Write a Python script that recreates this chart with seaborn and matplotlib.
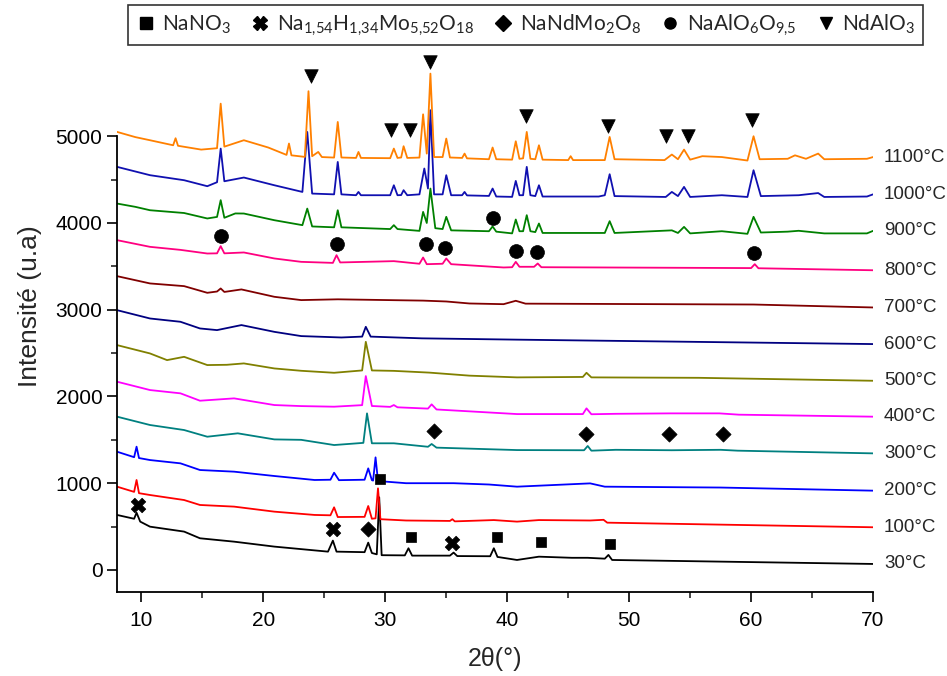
import numpy as np
import pandas as pd
import matplotlib.pyplot as plt
from matplotlib.lines import Line2D
import seaborn as sns

# curve data: (2theta, intensity)
temps = ['30°C', '100°C', '200°C', '300°C', '400°C', '500°C',
         '600°C', '700°C', '800°C', '900°C', '1000°C', '1100°C']
colors = ['#000000', '#FF0000', '#0000FF', '#008080', '#FF00FF', '#808000',
          '#000080', '#800000', '#FF0080', '#008000', '#1010B0', '#FF8000']

c30 = [(8.0, 634), (9.4, 590), (9.6, 660), (9.9, 557), (10.7, 499), (13.5, 442),
       (14.8, 365), (17.6, 326), (20.9, 269), (23.1, 240), (25.3, 211), (25.7, 338),
       (26.0, 211), (28.3, 205), (28.6, 315), (28.9, 195), (29.3, 180), (29.5, 837),
       (29.7, 170), (31.6, 168), (31.9, 250), (32.2, 165), (35.3, 165), (35.6, 200),
       (35.9, 160), (38.6, 158), (38.9, 250), (39.2, 150), (40.8, 115), (42.6, 153),
       (45.3, 140), (46.6, 140), (48.0, 130), (48.3, 173), (48.6, 115), (70.0, 69)]
c100 = [(8.0, 960), (9.4, 900), (9.6, 1037), (9.8, 885), (10.7, 864), (13.5, 806),
        (14.8, 749), (17.6, 730), (20.9, 672), (24.2, 634), (25.5, 630), (25.8, 722),
        (26.1, 610), (28.3, 612), (28.6, 737), (28.9, 590), (29.2, 595), (29.4, 941),
        (29.6, 585), (31.7, 570), (35.3, 565), (35.5, 585), (35.7, 560), (38.9, 575),
        (40.8, 557), (42.6, 575), (46.8, 570), (47.9, 578), (48.2, 545), (70.0, 492)]
c200 = [(8.0, 1363), (9.4, 1300), (9.6, 1421), (9.8, 1290), (10.7, 1267), (13.2, 1229),
        (14.8, 1152), (17.6, 1133), (20.9, 1083), (24.2, 1037), (25.5, 1040), (25.8, 1121),
        (26.2, 1035), (28.3, 1040), (28.6, 1171), (28.9, 1035), (29.0, 1030), (29.2, 1298),
        (29.4, 1025), (31.7, 1000), (33.5, 1000), (35.6, 1000), (38.5, 985), (40.8, 960),
        (46.8, 998), (48.0, 960), (57.5, 950), (70.0, 914)]
c300 = [(8.0, 1767), (10.7, 1671), (13.5, 1613), (15.4, 1536), (17.9, 1575), (20.9, 1505),
        (23.1, 1500), (25.8, 1440), (28.2, 1465), (28.5, 1805), (28.9, 1460), (30.7, 1460),
        (33.5, 1420), (33.8, 1452), (34.2, 1410), (40.8, 1382), (46.3, 1380), (46.6, 1429),
        (46.9, 1375), (48.9, 1385), (53.5, 1380), (57.5, 1385), (58.9, 1375), (70.0, 1344)]
c400 = [(8.0, 2170), (10.7, 2074), (13.2, 2036), (14.8, 1951), (17.6, 1978), (20.9, 1901),
        (23.1, 1889), (25.8, 1882), (28.1, 1900), (28.4, 2235), (28.9, 1890), (30.4, 1880),
        (30.7, 1901), (31.0, 1875), (33.5, 1860), (33.8, 1909), (34.2, 1850), (40.8, 1797),
        (46.2, 1797), (46.5, 1863), (46.9, 1795), (48.9, 1800), (53.4, 1805), (57.4, 1805),
        (59.0, 1790), (70.0, 1767)]
c500 = [(8.0, 2592), (10.7, 2496), (12.1, 2419), (13.5, 2457), (15.4, 2362), (17.0, 2365),
        (18.4, 2381), (20.9, 2323), (23.1, 2296), (25.8, 2273), (28.1, 2300), (28.4, 2630),
        (28.9, 2300), (30.7, 2295), (33.6, 2275), (36.9, 2240), (40.8, 2220), (46.2, 2225),
        (46.5, 2273), (46.9, 2220), (55.7, 2215), (70.0, 2181)]
c600 = [(8.0, 2995), (10.7, 2899), (13.2, 2861), (14.8, 2784), (16.2, 2765), (18.2, 2823),
        (20.9, 2745), (23.1, 2696), (26.4, 2680), (28.1, 2690), (28.4, 2803), (28.8, 2690),
        (33.0, 2670), (40.8, 2655), (70.0, 2604)]
c700 = [(8.0, 3387), (10.7, 3303), (13.5, 3272), (15.4, 3195), (16.2, 3210), (16.5, 3245),
        (16.8, 3205), (18.2, 3234), (20.9, 3149), (23.1, 3111), (26.1, 3120), (30.7, 3110),
        (33.1, 3105), (35.0, 3095), (36.9, 3072), (39.7, 3064), (40.7, 3103), (41.5, 3070),
        (60.2, 3060), (70.0, 3026)]
c800 = [(8.0, 3802), (10.7, 3725), (13.2, 3690), (15.4, 3648), (16.2, 3650), (16.5, 3733),
        (16.8, 3650), (18.4, 3660), (20.9, 3591), (23.1, 3552), (25.7, 3540), (26.0, 3629),
        (26.3, 3545), (30.7, 3560), (32.8, 3530), (33.1, 3602), (33.4, 3525), (34.7, 3530),
        (35.0, 3591), (35.4, 3525), (39.7, 3487), (40.4, 3490), (40.7, 3552), (41.0, 3495),
        (42.2, 3495), (42.5, 3533), (42.8, 3490), (60.0, 3480), (60.3, 3525), (60.6, 3478),
        (70.0, 3455)]
c900 = [(8.0, 4224), (9.5, 4186), (10.7, 4147), (13.5, 4115), (15.4, 4052), (16.2, 4070),
        (16.5, 4263), (16.8, 4060), (17.7, 4110), (18.4, 4109), (20.9, 4032), (23.2, 3975),
        (23.6, 4166), (24.0, 3960), (25.8, 3950), (26.1, 4147), (26.4, 3950), (30.4, 3930),
        (30.7, 3975), (31.0, 3930), (32.8, 3909), (33.1, 4128), (33.4, 4000), (33.7, 4397),
        (34.1, 3940), (34.7, 3930), (35.0, 4071), (35.4, 3915), (38.5, 3905), (38.8, 3960),
        (39.1, 3900), (40.4, 3880), (40.7, 4040), (41.0, 3905), (41.3, 3905), (41.6, 4090),
        (41.9, 3905), (42.3, 3895), (42.6, 3994), (42.9, 3885), (48.0, 3885), (48.4, 4021),
        (48.8, 3885), (53.5, 3915), (54.0, 3885), (54.5, 3955), (55.0, 3880), (57.6, 3905),
        (59.7, 3875), (60.2, 4071), (60.8, 3890), (63.0, 3900), (63.9, 3910), (66.0, 3880),
        (69.5, 3880), (70.0, 3909)]
c1000 = [(8.0, 4647), (10.7, 4551), (13.5, 4493), (15.4, 4424), (16.2, 4470), (16.5, 4858),
         (16.8, 4481), (18.4, 4524), (20.9, 4435), (23.2, 4358), (23.6, 5050), (24.0, 4339),
         (25.8, 4330), (26.1, 4704), (26.4, 4330), (27.6, 4320), (27.8, 4358), (28.0, 4320),
         (30.4, 4320), (30.7, 4435), (31.0, 4320), (31.3, 4322), (31.5, 4378), (31.8, 4320),
         (32.8, 4330), (33.2, 4628), (33.5, 4397), (33.7, 5300), (34.0, 4330), (34.7, 4330),
         (35.0, 4551), (35.4, 4320), (36.3, 4320), (36.5, 4358), (36.7, 4318), (38.5, 4312),
         (38.8, 4397), (39.1, 4305), (40.4, 4301), (40.7, 4485), (41.0, 4320), (41.3, 4320),
         (41.6, 4647), (41.9, 4320), (42.3, 4310), (42.6, 4435), (42.9, 4305), (47.5, 4305),
         (48.0, 4320), (48.4, 4562), (48.8, 4310), (53.0, 4300), (53.5, 4358), (54.0, 4310),
         (54.5, 4416), (55.0, 4300), (57.6, 4320), (59.7, 4300), (60.2, 4608), (60.8, 4310),
         (63.9, 4320), (65.5, 4345), (66.0, 4300), (69.5, 4305), (70.0, 4330)]
c1100 = [(8.0, 5050), (9.5, 4990), (10.7, 4954), (12.6, 4896), (12.8, 4977), (13.0, 4890),
         (14.9, 4846), (16.2, 4862), (16.5, 5376), (16.8, 4880), (18.4, 4954), (20.4, 4870),
         (21.9, 4785), (22.1, 4916), (22.3, 4780), (23.4, 4762), (23.7, 5519), (24.0, 4770),
         (24.5, 4819), (24.8, 4760), (25.8, 4754), (26.1, 5165), (26.4, 4755), (27.6, 4750),
         (27.8, 4819), (28.0, 4750), (30.4, 4747), (30.7, 4858), (31.0, 4750), (31.3, 4755),
         (31.5, 4885), (31.8, 4750), (32.8, 4754), (33.1, 5253), (33.4, 4800), (33.7, 5722),
         (34.0, 4760), (34.7, 4760), (35.0, 4973), (35.3, 4755), (36.3, 4750), (36.5, 4800),
         (36.7, 4745), (38.5, 4735), (38.8, 4870), (39.1, 4735), (40.4, 4730), (40.7, 4942),
         (41.0, 4740), (41.3, 4745), (41.6, 5050), (41.9, 4740), (42.3, 4735), (42.6, 4896),
         (42.9, 4730), (45.0, 4725), (45.2, 4770), (45.4, 4725), (48.0, 4725), (48.4, 4992),
         (48.8, 4735), (52.9, 4725), (53.5, 4789), (54.0, 4735), (54.5, 4846), (55.0, 4730),
         (56.0, 4770), (57.6, 4760), (59.7, 4720), (60.2, 5000), (60.7, 4735), (63.0, 4740),
         (63.6, 4780), (64.5, 4740), (65.5, 4800), (66.0, 4735), (69.5, 4740), (70.0, 4760)]
curves = [c30, c100, c200, c300, c400, c500, c600, c700, c800, c900, c1000, c1100]

# phase markers (2theta, intensity)
pos_nano3 = [(29.6, 1045), (32.1, 376), (39.2, 376), (42.8, 319), (48.4, 300)]
pos_namo = [(9.7, 749), (25.7, 472), (35.5, 315)]
pos_nandmo = [(28.6, 472), (34.0, 1601), (46.5, 1563), (53.3, 1563), (57.7, 1563)]
pos_naal = [(16.5, 3852), (26.0, 3756), (33.3, 3756), (34.9, 3714), (38.8, 4052),
            (40.7, 3675), (42.4, 3660), (60.2, 3656)]
pos_ndal = [(23.9, 5700), (30.5, 5069), (32.0, 5069), (33.7, 5856), (41.5, 5230),
            (48.3, 5115), (53.0, 5000), (54.8, 5000), (60.1, 5184)]

phase_labels = ['NaNO$_3$', 'Na$_{1{,}54}$H$_{1{,}34}$Mo$_{5{,}52}$O$_{18}$',
                'NaNdMo$_2$O$_8$', 'NaAlO$_6$O$_{9{,}5}$', 'NdAlO$_3$']

sns.set_style('ticks')
plt.rcParams['font.family'] = ['Liberation Sans', 'DejaVu Sans']
plt.rcParams['mathtext.fontset'] = 'custom'
plt.rcParams['mathtext.rm'] = 'Lato'
plt.rcParams['mathtext.it'] = 'Lato:italic'

rows = []
for t, c in zip(temps, curves):
    for x, y in c:
        rows.append((t, x, y))
df = pd.DataFrame(rows, columns=['T', 'tt', 'I'])

fig = plt.figure(figsize=(9.47, 6.76), dpi=100)
ax = fig.add_axes([0.1236, 0.1243, 0.7983, 0.8461])

sns.lineplot(data=df, x='tt', y='I', hue='T', palette=dict(zip(temps, colors)),
             estimator=None, sort=False, legend=False, linewidth=1.3, ax=ax)

markers = ['s', 'X', 'D', 'o', 'v']
msize = [60, 110, 60, 100, 95]
for pts, m, s in zip([pos_nano3, pos_namo, pos_nandmo, pos_naal, pos_ndal], markers, msize):
    p = pd.DataFrame(pts, columns=['tt', 'I'])
    sns.scatterplot(data=p, x='tt', y='I', marker=m, s=s, color='black',
                    edgecolor='black', linewidth=0.5, ax=ax, clip_on=False, zorder=5)

for t, c in zip(temps, curves):
    ax.text(70.9, c[-1][1], t, ha='left', va='center', fontsize=13.5, clip_on=False)

ax.set_xlim(8, 70)
ax.set_ylim(-254, 6340)
ax.set_xticks(np.arange(10, 71, 10))
ax.set_xticks(np.arange(15, 70, 10), minor=True)
ax.set_yticks(np.arange(0, 5001, 1000))
ax.set_yticks(np.arange(500, 5000, 1000), minor=True)
ax.spines['top'].set_visible(False)
ax.spines['right'].set_visible(False)
ax.spines['left'].set_bounds(-254, 5000)
for s in ['left', 'bottom']:
    ax.spines[s].set_linewidth(1.3)
    ax.spines[s].set_color('black')
ax.tick_params(which='major', direction='out', length=7, width=1.2, labelsize=15, colors='black')
ax.tick_params(axis='x', which='major', pad=7)
ax.tick_params(which='minor', direction='out', length=4, width=1.2)
ax.set_xlabel('2θ(°)', fontsize=18, labelpad=12)
ax.set_ylabel('Intensité (u.a)', fontsize=19, labelpad=10)

handles = [Line2D([], [], linestyle='none', marker=m, color='black', markersize=8 if m != 'X' else 10)
           for m in markers]
leg = fig.legend(handles, phase_labels, loc='upper left', bbox_to_anchor=(128 / 947, 1 - 5 / 676),
                 ncol=5, frameon=True, fancybox=False, edgecolor='black', borderaxespad=0,
                 handletextpad=0.3, columnspacing=0.9, handlelength=1.0, borderpad=0.35,
                 prop={'family': 'Lato', 'size': 15})
leg.get_frame().set_linewidth(1.2)

fig.savefig('out.png', dpi=100)
